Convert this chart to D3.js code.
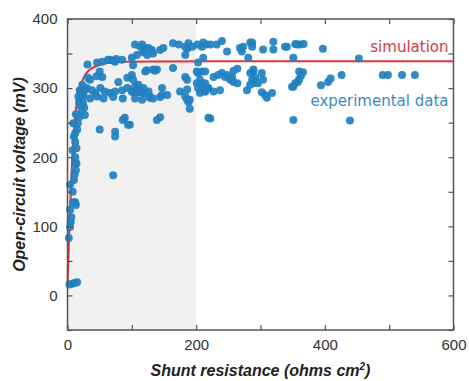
<!DOCTYPE html>
<html>
<head>
<meta charset="utf-8">
<script src="https://cdn.jsdelivr.net/npm/d3@7"></script>
<style>
  body { margin: 0; background: #fff; }
  text { font-family: "Liberation Sans", Arial, sans-serif; }
</style>
</head>
<body>
<div id="chart"></div>
<script>
// experimental points: shunt resistance (ohms cm2) and Voc (mV)
const expX = [
  3, 7, 11, 15,
  2, 4, 5, 6, 4, 13, 12, 9, 4, 10, 13, 12, 12, 14, 14, 12, 12, 9, 16, 22, 27, 24, 22, 8, 10, 15, 18, 20, 13, 17, 19, 8, 11,
  23, 20, 25, 18, 26,
  46, 54, 66, 74, 85, 100, 105, 108,
  32, 54, 79, 93, 100,
  30, 38, 43, 51, 58, 66, 74, 85, 93, 100, 108,
  24, 35, 46, 56, 71, 86, 105,
  27, 35, 45, 50, 31, 63, 71, 76, 102,
  50, 74, 74, 89, 97, 94, 86, 71,
  102, 110, 117, 116, 128, 144, 186, 190, 219, 139, 144,
  113, 116, 118, 121, 118, 124, 126, 131, 133, 144, 149,
  164, 173, 183, 188, 194, 202, 209, 216, 183, 186,
  121, 133, 139, 164, 123, 136, 183, 186, 203, 209, 214, 201, 203,
  102, 105, 110, 118, 113, 121, 128, 147, 155, 175, 183, 188, 201, 203, 214, 186, 190, 206, 209, 219, 126, 133, 147,
  211, 222, 232, 240, 248, 268, 271, 273, 284, 287, 287, 304, 320, 320, 341, 357,
  211, 281, 351,
  206, 214, 217, 214, 227, 234, 240, 245, 253, 258, 264, 237, 258, 264, 284, 289, 292, 287, 289, 284, 296, 302, 304, 279, 302, 307, 310, 318, 349, 289, 227, 248, 256,
  338, 354, 361, 367, 397, 453,
  360, 366, 363, 360, 354, 358, 351, 394, 405, 409, 426,
  490, 498, 520, 540,
  222, 351, 439
];
const expY = [
  16, 17, 18, 19,
  83, 99, 106, 113, 124, 131, 135, 135, 160, 167, 181, 191, 200, 191, 213, 222, 235, 249, 249, 268, 261, 278, 287, 210, 230, 240, 258, 275, 262, 288, 297, 150, 175,
  305, 295, 290, 280, 272,
  337, 338, 341, 338, 341, 344, 363, 348,
  315, 316, 309, 315, 319,
  300, 297, 293, 300, 295, 293, 295, 297, 300, 295, 297,
  287, 285, 288, 285, 287, 285, 285,
  298, 312, 317, 324, 334, 341, 340, 342, 333,
  240, 237, 230, 257, 247, 247, 254, 174,
  294, 294, 294, 283, 286, 287, 283, 270, 257, 254, 258,
  360, 363, 355, 358, 352, 348, 358, 355, 350, 355, 358,
  365, 363, 360, 365, 360, 363, 360, 363, 348, 357,
  324, 327, 327, 329, 326, 325, 316, 312, 322, 324, 324, 324, 337,
  312, 302, 305, 300, 295, 293, 288, 300, 290, 295, 288, 280, 307, 300, 295, 298, 283, 293, 305, 300, 295, 285, 290,
  366, 363, 363, 368, 353, 358, 353, 360, 366, 360, 366, 356, 367, 356, 360, 363,
  344, 344, 344,
  312, 307, 300, 295, 316, 319, 322, 316, 312, 309, 307, 297, 325, 328, 322, 324, 315, 312, 307, 305, 307, 322, 312, 297, 294, 290, 286, 293, 302, 327, 295, 319, 316,
  360, 364, 363, 364, 357, 343,
  324, 323, 318, 313, 307, 309, 302, 304, 309, 314, 319,
  319, 319, 319, 319,
  256, 254, 253
];

// simulation curve
const simX = [0.3, 2, 4, 6, 8, 10, 13, 17, 22, 28, 35, 45, 60, 90, 150, 300, 600];
const simY = [20, 70, 120, 170, 210, 237, 268, 292, 308, 320, 327, 332, 336, 338, 338.5, 338.8, 339];

const xTicks = [0, 100, 200, 300, 400, 500, 600];
const yTicks = [-50, 0, 50, 100, 150, 200, 250, 300, 350, 400];
const shadeRange = [0, 200];

const W = 469, H = 381;
const margin = {top: 19, right: 15.5, bottom: 51, left: 67.5};
const width = W - margin.left - margin.right;
const height = H - margin.top - margin.bottom;

const svg = d3.select('#chart').append('svg')
  .attr('width', W)
  .attr('height', H);

const g = svg.append('g')
  .attr('transform', `translate(${margin.left},${margin.top})`);

const x = d3.scaleLinear().domain([0, 600]).range([0, width]);
const y = d3.scaleLinear().domain([-50, 400]).range([height, 0]);

// grey band for low shunt resistance
g.append('rect')
  .attr('x', x(shadeRange[0]))
  .attr('y', 0)
  .attr('width', x(shadeRange[1]) - x(shadeRange[0]))
  .attr('height', height)
  .attr('fill', '#f1f1f1');

// simulation line
const simData = simX.map((d, i) => ({x: d, y: simY[i]}));
g.append('path')
  .datum(simData)
  .attr('fill', 'none')
  .attr('stroke', '#e2313d')
  .attr('stroke-width', 2)
  .attr('d', d3.line().x(d => x(d.x)).y(d => y(d.y)).curve(d3.curveMonotoneX));

// experimental dots
const expData = expX.map((d, i) => ({x: d, y: expY[i]}));
g.append('g').selectAll('circle')
  .data(expData)
  .enter()
  .append('circle')
  .attr('cx', d => x(d.x))
  .attr('cy', d => y(d.y))
  .attr('r', 4)
  .attr('fill', '#2281c0')
  .attr('fill-opacity', 0.92);

// axes, ticks pointing inward
const fmtY = v => (v >= 0 && v % 100 === 0) ? v : '';
const fmtX = v => (v % 200 === 0) ? v : '';

const styleAxis = sel => {
  sel.select('.domain').remove();
  sel.selectAll('.tick line').attr('stroke', '#555').attr('stroke-width', 1.2);
  sel.selectAll('.tick text')
    .attr('fill', '#333')
    .style('font-size', '15px');
};

g.append('g')
  .call(d3.axisLeft(y).tickValues(yTicks).tickSize(-5).tickPadding(10).tickFormat(fmtY))
  .call(styleAxis);
g.append('g')
  .attr('transform', `translate(${width},0)`)
  .call(d3.axisRight(y).tickValues(yTicks).tickSize(-5).tickFormat(''))
  .call(styleAxis);
g.append('g')
  .attr('transform', `translate(0,${height})`)
  .call(d3.axisBottom(x).tickValues(xTicks).tickSize(-5).tickPadding(9).tickFormat(fmtX))
  .call(styleAxis);
g.append('g')
  .call(d3.axisTop(x).tickValues(xTicks).tickSize(-5).tickFormat(''))
  .call(styleAxis);

// frame
g.append('rect')
  .attr('width', width)
  .attr('height', height)
  .attr('fill', 'none')
  .attr('stroke', '#555')
  .attr('stroke-width', 1.5);

// labels
g.append('text')
  .attr('x', width - 5)
  .attr('y', 52 - margin.top)
  .attr('text-anchor', 'end')
  .attr('fill', '#d93a44')
  .style('font-family', '"DejaVu Sans", sans-serif')
  .style('font-size', '15px')
  .text('simulation');

g.append('text')
  .attr('x', width - 5)
  .attr('y', 106 - margin.top)
  .attr('text-anchor', 'end')
  .attr('fill', '#3a8cc2')
  .style('font-family', '"DejaVu Sans", sans-serif')
  .style('font-size', '15px')
  .text('experimental data');

svg.append('text')
  .attr('transform', `translate(25,${margin.top + height / 2}) rotate(-90)`)
  .attr('text-anchor', 'middle')
  .style('font-size', '16px')
  .style('font-weight', 'bold')
  .style('font-style', 'italic')
  .attr('fill', '#222')
  .text('Open-circuit voltage (mV)');

const xt = svg.append('text')
  .attr('x', margin.left + width / 2)
  .attr('y', 376)
  .attr('text-anchor', 'middle')
  .style('font-size', '16px')
  .style('font-weight', 'bold')
  .style('font-style', 'italic')
  .attr('fill', '#222');
xt.append('tspan').text('Shunt resistance (ohms cm');
xt.append('tspan').attr('dy', -6).style('font-size', '10px').text('2');
xt.append('tspan').attr('dy', 6).text(')');
</script>
</body>
</html>
